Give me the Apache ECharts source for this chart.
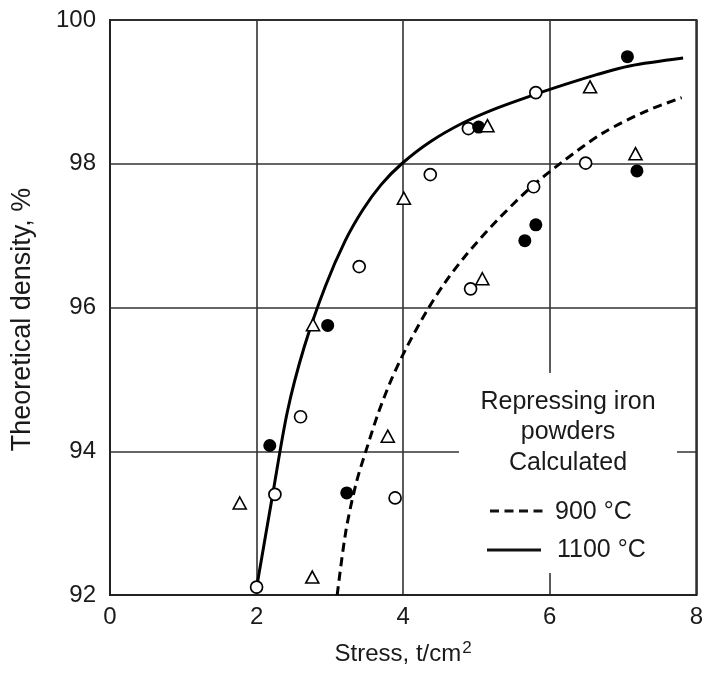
<!DOCTYPE html>
<html><head><meta charset="utf-8">
<script src="https://cdn.jsdelivr.net/npm/echarts@6/dist/echarts.min.js"></script>
<style>html,body{margin:0;padding:0;background:#fff}#c{width:706px;height:677px}</style>
</head><body><div id="c"></div>
<script>
// ---- data ----
const xTicks = [0, 2, 4, 6, 8];
const yTicks = [92, 94, 96, 98, 100];
const xName = 'Stress, t/cm';
const xNameSup = '2';
const yName = 'Theoretical density, %';

// calculated curves (stress t/cm2, theoretical density %)
const curve900 = [[3.10,92.0],[3.22,92.9],[3.36,93.56],[3.5,94.03],[3.66,94.53],[3.84,95.0],[4.05,95.45],[4.31,95.93],[4.56,96.33],[4.85,96.72],[5.27,97.2],[5.73,97.66],[6.19,98.04],[6.73,98.43],[7.31,98.73],[7.8,98.92]];
const curve1100 = [[2.0,92.1],[2.22,93.4],[2.42,94.55],[2.65,95.45],[2.94,96.3],[3.21,96.93],[3.45,97.36],[3.7,97.71],[3.98,98.0],[4.36,98.3],[4.82,98.57],[5.27,98.77],[5.73,98.94],[6.2,99.1],[6.64,99.24],[7.09,99.36],[7.82,99.47]];

// experimental points
const openCircles = [[2.0,92.11],[2.25,93.4],[2.6,94.48],[3.4,96.57],[3.89,93.35],[4.37,97.85],[4.89,98.49],[4.92,96.26],[5.78,97.68],[5.81,98.99],[6.49,98.01]];
const filledCircles = [[2.18,94.08],[2.97,95.75],[3.23,93.42],[5.03,98.51],[5.66,96.93],[5.81,97.15],[7.06,99.49],[7.19,97.9]];
const openTriangles = [[1.77,93.28],[2.76,92.25],[2.77,95.76],[3.79,94.21],[4.01,97.52],[5.08,96.4],[5.15,98.53],[6.55,99.07],[7.17,98.14]];

const legendTitle = ['Repressing iron', 'powders', 'Calculated'];
const seriesNames = ['900 °C', '1100 °C'];

// ---- chart ----
const FONT = '"Liberation Sans", Arial, Helvetica, sans-serif';
const INK = '#1a1a1a';
const chart = echarts.init(document.getElementById('c'), null, {renderer: 'canvas'});

const legendGraphics = [
  {type: 'rect', z: 10, shape: {x: 459, y: 373, width: 218, height: 200}, style: {fill: '#fff'}},
  ...legendTitle.map((t, i) => ({
    type: 'text', z: 11, x: 568, y: [402, 432, 463][i],
    style: {text: t, fill: INK, font: '25px ' + FONT, textAlign: 'center', textVerticalAlign: 'middle'}
  })),
  {type: 'line', z: 11, shape: {x1: 490, y1: 511, x2: 543, y2: 511},
   style: {stroke: '#111', lineWidth: 3, lineDash: [9, 5.5]}},
  {type: 'text', z: 11, x: 555, y: 512,
   style: {text: seriesNames[0], fill: INK, font: '25px ' + FONT, textAlign: 'left', textVerticalAlign: 'middle'}},
  {type: 'line', z: 11, shape: {x1: 487, y1: 550, x2: 541, y2: 550},
   style: {stroke: '#111', lineWidth: 3}},
  {type: 'text', z: 11, x: 557, y: 550,
   style: {text: seriesNames[1], fill: INK, font: '25px ' + FONT, textAlign: 'left', textVerticalAlign: 'middle'}}
];

const option = {
  animation: false,
  backgroundColor: '#fff',
  grid: {left: 110, right: 4, top: 20, bottom: 82, show: true, borderColor: '#222', borderWidth: 2, backgroundColor: 'transparent'},
  xAxis: {
    type: 'value', min: xTicks[0], max: xTicks[xTicks.length - 1], interval: 2,
    name: '{a|' + xName + '}{s|' + xNameSup + '}', nameLocation: 'middle', nameGap: 45,
    nameTextStyle: {rich: {
      a: {fontSize: 24, color: INK, fontFamily: FONT},
      s: {fontSize: 17, color: INK, fontFamily: FONT, padding: [0, 0, 12, 1]}
    }},
    axisLine: {show: true, lineStyle: {color: '#222', width: 2}},
    axisTick: {show: false},
    axisLabel: {fontSize: 24, color: INK, fontFamily: FONT, margin: 10},
    splitLine: {show: true, lineStyle: {color: '#333', width: 1.6}}
  },
  yAxis: {
    type: 'value', min: yTicks[0], max: yTicks[yTicks.length - 1], interval: 2,
    name: yName, nameLocation: 'middle', nameGap: 74,
    nameTextStyle: {fontSize: 27, color: INK, fontFamily: FONT, padding: [0, 24, 0, 0]},
    axisLine: {show: true, lineStyle: {color: '#222', width: 2}},
    axisTick: {show: false},
    axisLabel: {fontSize: 24, color: INK, fontFamily: FONT, margin: 14},
    splitLine: {show: true, lineStyle: {color: '#333', width: 1.6}}
  },
  series: [
    {name: seriesNames[0], type: 'line', data: curve900, smooth: 0.3, symbol: 'none',
     lineStyle: {color: '#000', width: 3, type: [9, 5.5]}, z: 3},
    {name: seriesNames[1], type: 'line', data: curve1100, smooth: 0.3, symbol: 'none',
     lineStyle: {color: '#000', width: 3}, z: 3},
    {name: 'open circles', type: 'scatter', data: openCircles, symbol: 'circle', symbolSize: 12,
     itemStyle: {color: '#fff', borderColor: '#000', borderWidth: 1.7, opacity: 1}, z: 4},
    {name: 'filled circles', type: 'scatter', data: filledCircles, symbol: 'circle', symbolSize: 13,
     itemStyle: {color: '#000', borderColor: '#000', borderWidth: 0, opacity: 1}, z: 4},
    {name: 'open triangles', type: 'scatter', data: openTriangles, symbol: 'triangle', symbolSize: [13, 12],
     itemStyle: {color: '#fff', borderColor: '#000', borderWidth: 1.6, opacity: 1}, z: 4}
  ],
  graphic: legendGraphics
};
chart.setOption(option);
</script>
</body></html>
